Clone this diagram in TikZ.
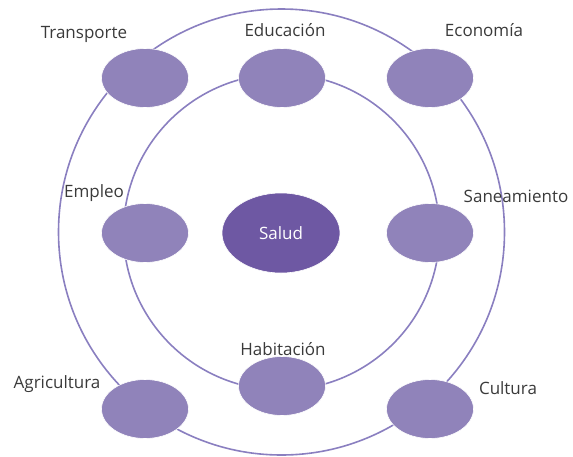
\documentclass[tikz,border=0pt]{standalone}
\usepackage{fontspec}
\setmainfont{Open Sans}
\usetikzlibrary{shapes.geometric}
\definecolor{ring}{HTML}{8A7FC0}
\definecolor{petal}{HTML}{9083BA}
\definecolor{core}{HTML}{6E58A3}
\definecolor{txt}{HTML}{3A3A3A}
\begin{document}
\begin{tikzpicture}[x=1pt, y=-1pt,
  area/.style={shape=ellipse, fill=petal, draw=white, line width=0.6pt, minimum width=87pt, minimum height=59pt, inner sep=0pt},
  lbl/.style={text=txt, font=\fontsize{17}{19}\selectfont, inner sep=0pt}]
\useasboundingbox (0,0) rectangle (573,456);
% rings
\node[coordinate] (C) at (281.5,232) {};
\draw[ring, line width=1.6pt] (C) circle (223pt);
\draw[ring, line width=1.6pt] (C) circle (158pt);
% centre
\node[shape=ellipse, fill=core, draw=white, line width=0.6pt, minimum width=118pt, minimum height=80pt, inner sep=0pt, text=white, font=\fontsize{17}{19}\selectfont] (salud) at (281,233) {Salud};
% areas
\node[area] (trans) at (145,78) {};
\node[area] (educ) at (282,78) {};
\node[area] (econ) at (430,78) {};
\node[area] (empl) at (145,233) {};
\node[area] (sane) at (430,233) {};
\node[area] (habi) at (282,386) {};
\node[area] (agri) at (145,409) {};
\node[area] (cult) at (430,409) {};
% labels
\node[lbl] (transL) at (84,34) {Transporte};
\node[lbl] (educL) at (285,30) {Educación};
\node[lbl] (econL) at (484,30) {Economía};
\node[lbl] (emplL) at (94,193) {Empleo};
\node[lbl] (saneL) at (516,196) {Saneamiento};
\node[lbl] (habiL) at (283,349) {Habitación};
\node[lbl] (agriL) at (57,384) {Agricultura};
\node[lbl] (cultL) at (508,388) {Cultura};
\end{tikzpicture}
\end{document}
